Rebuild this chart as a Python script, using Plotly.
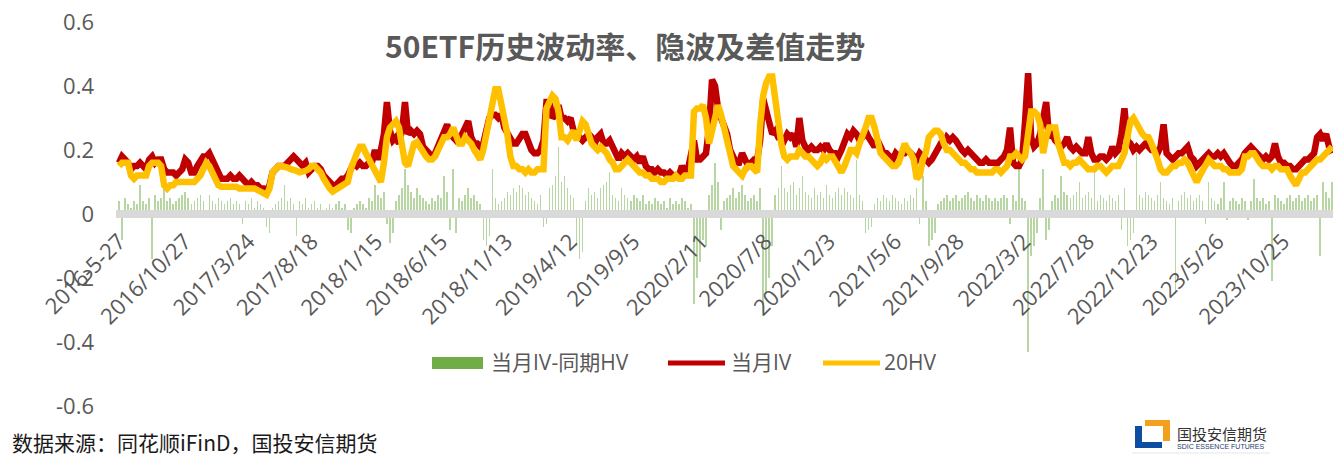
import pandas as pd
import plotly.graph_objects as go

# 当月IV（红线），周度读数
iv = [
    0.16, 0.18, 0.17, 0.16, 0.14, 0.15, 0.15, 0.16, 0.15, 0.14,
    0.17, 0.18, 0.16, 0.17, 0.17, 0.14, 0.13, 0.13, 0.13, 0.12,
    0.13, 0.14, 0.17, 0.16, 0.13, 0.13, 0.15, 0.17, 0.18, 0.18,
    0.19, 0.17, 0.15, 0.13, 0.11, 0.11, 0.11, 0.12, 0.11, 0.11,
    0.12, 0.11, 0.10, 0.09, 0.10, 0.09, 0.09, 0.08, 0.08, 0.07,
    0.09, 0.13, 0.14, 0.15, 0.15, 0.15, 0.16, 0.17, 0.18, 0.17,
    0.16, 0.15, 0.16, 0.13, 0.14, 0.15, 0.15, 0.14, 0.12, 0.11,
    0.10, 0.09, 0.09, 0.10, 0.11, 0.11, 0.12, 0.14, 0.16, 0.15,
    0.16, 0.15, 0.15, 0.16, 0.16, 0.20, 0.17, 0.20, 0.25, 0.35,
    0.26, 0.23, 0.24, 0.22, 0.26, 0.35, 0.25, 0.26, 0.25, 0.26,
    0.25, 0.21, 0.20, 0.19, 0.18, 0.19, 0.21, 0.24, 0.26, 0.28,
    0.25, 0.24, 0.23, 0.24, 0.25, 0.27, 0.29, 0.24, 0.22, 0.22,
    0.21, 0.22, 0.27, 0.30, 0.31, 0.31, 0.30, 0.31, 0.27, 0.25,
    0.23, 0.22, 0.22, 0.24, 0.25, 0.25, 0.22, 0.20, 0.19, 0.19,
    0.20, 0.23, 0.35, 0.35, 0.30, 0.31, 0.34, 0.30, 0.30, 0.29,
    0.30, 0.26, 0.25, 0.24, 0.23, 0.24, 0.25, 0.24, 0.22, 0.24,
    0.25, 0.22, 0.22, 0.23, 0.21, 0.18, 0.17, 0.19, 0.18, 0.19,
    0.18, 0.17, 0.18, 0.16, 0.18, 0.15, 0.14, 0.14, 0.13, 0.14,
    0.13, 0.13, 0.12, 0.13, 0.12, 0.12, 0.12, 0.15, 0.13, 0.14,
    0.20, 0.23, 0.17, 0.17, 0.18, 0.19, 0.27, 0.42, 0.40, 0.33,
    0.30, 0.28, 0.25, 0.20, 0.18, 0.16, 0.16, 0.19, 0.17, 0.15,
    0.16, 0.17, 0.17, 0.23, 0.36, 0.32, 0.27, 0.25, 0.26, 0.24,
    0.24, 0.23, 0.25, 0.24, 0.25, 0.21, 0.30, 0.23, 0.21, 0.20,
    0.21, 0.20, 0.20, 0.21, 0.20, 0.22, 0.20, 0.19, 0.19, 0.18,
    0.20, 0.22, 0.25, 0.24, 0.26, 0.25, 0.23, 0.24, 0.26, 0.24,
    0.22, 0.21, 0.23, 0.21, 0.19, 0.19, 0.18, 0.17, 0.19, 0.18,
    0.19, 0.19, 0.20, 0.19, 0.18, 0.17, 0.19, 0.18, 0.17, 0.16,
    0.17, 0.19, 0.21, 0.22, 0.22, 0.24, 0.23, 0.24, 0.23, 0.21,
    0.20, 0.19, 0.20, 0.19, 0.18, 0.17, 0.16, 0.16, 0.17, 0.16,
    0.16, 0.16, 0.16, 0.17, 0.18, 0.20, 0.27, 0.16, 0.15, 0.15,
    0.17, 0.29, 0.44, 0.24, 0.21, 0.22, 0.25, 0.30, 0.35, 0.24,
    0.25, 0.23, 0.22, 0.21, 0.22, 0.24, 0.21, 0.20, 0.21, 0.20,
    0.19, 0.19, 0.24, 0.19, 0.17, 0.17, 0.18, 0.18, 0.17, 0.18,
    0.21, 0.19, 0.20, 0.25, 0.33, 0.23, 0.22, 0.20, 0.21, 0.20,
    0.21, 0.22, 0.21, 0.20, 0.20, 0.19, 0.21, 0.28, 0.19, 0.18,
    0.17, 0.18, 0.19, 0.19, 0.20, 0.21, 0.18, 0.17, 0.15, 0.16,
    0.17, 0.18, 0.19, 0.18, 0.18, 0.19, 0.18, 0.19, 0.17, 0.16,
    0.15, 0.15, 0.16, 0.17, 0.19, 0.20, 0.21, 0.20, 0.19, 0.18,
    0.17, 0.18, 0.17, 0.18, 0.22, 0.18, 0.16, 0.16, 0.15, 0.15,
    0.14, 0.14, 0.15, 0.16, 0.17, 0.17, 0.18, 0.19, 0.24, 0.25,
    0.23, 0.25, 0.21, 0.19,
]

# 20HV（黄线）
hv20 = [
    0.15, 0.16, 0.16, 0.16, 0.12, 0.11, 0.12, 0.12, 0.12, 0.12,
    0.15, 0.16, 0.16, 0.16, 0.15, 0.09, 0.08, 0.09, 0.09, 0.10,
    0.10, 0.10, 0.10, 0.10, 0.10, 0.10, 0.11, 0.12, 0.14, 0.16,
    0.15, 0.13, 0.10, 0.09, 0.085, 0.085, 0.085, 0.09, 0.085, 0.085,
    0.08, 0.08, 0.085, 0.085, 0.08, 0.08, 0.075, 0.07, 0.06, 0.06,
    0.08, 0.13, 0.14, 0.15, 0.15, 0.15, 0.145, 0.14, 0.14, 0.135,
    0.13, 0.13, 0.135, 0.14, 0.15, 0.15, 0.14, 0.13, 0.11, 0.09,
    0.08, 0.07, 0.075, 0.08, 0.09, 0.09, 0.10, 0.14, 0.17, 0.19,
    0.21, 0.21, 0.19, 0.17, 0.16, 0.14, 0.12, 0.10, 0.16, 0.24,
    0.27, 0.28, 0.29, 0.27, 0.21, 0.16, 0.15, 0.18, 0.22, 0.225,
    0.21, 0.19, 0.18, 0.17, 0.17, 0.18, 0.20, 0.22, 0.24, 0.24,
    0.25, 0.27, 0.25, 0.22, 0.22, 0.24, 0.23, 0.22, 0.20, 0.18,
    0.17, 0.20, 0.25, 0.30, 0.35, 0.39, 0.39, 0.35, 0.31, 0.25,
    0.18, 0.15, 0.15, 0.14, 0.14, 0.13, 0.14, 0.13, 0.13, 0.14,
    0.14, 0.14, 0.33, 0.35, 0.37, 0.36, 0.32, 0.24, 0.24, 0.23,
    0.25, 0.26, 0.23, 0.27, 0.29, 0.28, 0.25, 0.22, 0.21, 0.20,
    0.21, 0.20, 0.19, 0.17, 0.16, 0.14, 0.14, 0.15, 0.16, 0.17,
    0.16, 0.15, 0.14, 0.13, 0.13, 0.12, 0.12, 0.11, 0.11, 0.11,
    0.10, 0.10, 0.11, 0.11, 0.11, 0.12, 0.11, 0.11, 0.12, 0.12,
    0.12, 0.32, 0.33, 0.33, 0.34, 0.30, 0.22, 0.26, 0.30, 0.34,
    0.31, 0.27, 0.24, 0.18, 0.15, 0.14, 0.13, 0.12, 0.14, 0.15,
    0.15, 0.14, 0.13, 0.28, 0.37, 0.41, 0.43, 0.43, 0.36, 0.28,
    0.22, 0.18, 0.17, 0.18, 0.18, 0.18, 0.20, 0.19, 0.18, 0.18,
    0.17, 0.16, 0.15, 0.16, 0.18, 0.17, 0.18, 0.18, 0.16, 0.14,
    0.13, 0.15, 0.18, 0.20, 0.20, 0.19, 0.22, 0.24, 0.27, 0.30,
    0.30, 0.27, 0.22, 0.19, 0.18, 0.17, 0.16, 0.15, 0.15, 0.16,
    0.19, 0.22, 0.20, 0.19, 0.17, 0.11, 0.12, 0.17, 0.19, 0.24,
    0.25, 0.26, 0.26, 0.25, 0.22, 0.20, 0.20, 0.19, 0.18, 0.17,
    0.16, 0.16, 0.15, 0.14, 0.14, 0.13, 0.13, 0.13, 0.13, 0.13,
    0.13, 0.14, 0.14, 0.13, 0.14, 0.15, 0.18, 0.18, 0.19, 0.18,
    0.17, 0.18, 0.25, 0.32, 0.32, 0.31, 0.28, 0.19, 0.24, 0.27,
    0.27, 0.27, 0.22, 0.18, 0.16, 0.16, 0.15, 0.16, 0.16, 0.17,
    0.16, 0.15, 0.14, 0.14, 0.14, 0.15, 0.15, 0.14, 0.13, 0.14,
    0.15, 0.15, 0.15, 0.17, 0.19, 0.24, 0.29, 0.30, 0.28, 0.26,
    0.25, 0.24, 0.24, 0.22, 0.20, 0.17, 0.14, 0.13, 0.13, 0.14,
    0.15, 0.15, 0.16, 0.16, 0.17, 0.16, 0.14, 0.12, 0.10, 0.12,
    0.14, 0.16, 0.17, 0.16, 0.15, 0.15, 0.15, 0.14, 0.14, 0.13,
    0.13, 0.13, 0.13, 0.14, 0.18, 0.18, 0.19, 0.19, 0.17, 0.16,
    0.15, 0.15, 0.15, 0.14, 0.15, 0.15, 0.14, 0.14, 0.14, 0.12,
    0.10, 0.09, 0.11, 0.13, 0.13, 0.14, 0.15, 0.16, 0.17, 0.17,
    0.18, 0.19, 0.20, 0.21,
]

# 当月IV-同期HV（绿色柱）
iv_hv_diff = [
    0.04, -0.08, 0.05, 0.03, 0.02, 0.04, 0.03, 0.09, 0.04, 0.03,
    0.05, -0.14, 0.06, 0.04, 0.05, 0.08, 0.04, 0.05, 0.03, 0.04,
    0.05, 0.06, 0.07, 0.05, 0.03, 0.04, 0.05, 0.06, 0.04, -0.01,
    0.06, 0.04, 0.03, 0.05, 0.04, 0.03, 0.04, 0.05, 0.03, 0.04,
    0.03, -0.03, 0.04, 0.03, 0.05, 0.02, 0.04, 0.03, 0.02, -0.04,
    -0.06, 0.02, 0.03, 0.04, 0.05, 0.09, 0.04, 0.05, 0.03, -0.07,
    0.04, 0.03, 0.05, 0.02, 0.03, 0.04, 0.02, 0.03, -0.01, 0.02,
    0.03, 0.02, 0.03, 0.04, 0.02, 0.03, -0.05, -0.06, 0.02, 0.03,
    0.04, 0.03, 0.02, 0.05, 0.04, 0.09, 0.06, 0.05, 0.07, -0.03,
    -0.09, -0.06, 0.04, 0.06, 0.08, 0.14, 0.09, 0.07, 0.05, 0.08,
    0.06, 0.05, 0.04, 0.03, 0.05, 0.04, 0.06, 0.05, 0.12, 0.07,
    -0.05, 0.14, -0.06, 0.05, 0.04, 0.06, 0.08, 0.05, 0.06, 0.04,
    0.03, -0.08, -0.10, -0.07, 0.14, 0.05, 0.03, 0.04, 0.05, 0.07,
    0.06, 0.08, 0.07, 0.09, 0.08, 0.06, 0.07, 0.05, 0.04, 0.03,
    0.06, -0.04, -0.03, 0.08, 0.09, 0.12, 0.21, 0.10, 0.12, 0.08,
    0.06, 0.05, -0.10, -0.14, -0.12, 0.04, 0.08, 0.06, 0.07, 0.05,
    0.08, 0.09, 0.10, 0.13, 0.06, 0.05, 0.04, 0.08, 0.06, 0.05,
    0.04, 0.06, 0.05, 0.04, 0.06, 0.03, 0.04, 0.03, 0.05, 0.04,
    0.03, 0.04, 0.02, 0.05, 0.03, 0.04, 0.03, 0.05, 0.04, 0.02,
    0.03, -0.28, -0.20, -0.15, -0.08, -0.10, 0.06, 0.09, 0.16, 0.10,
    -0.05, 0.04, 0.05, 0.06, 0.08, 0.05, 0.07, 0.09, 0.06, 0.04,
    0.05, 0.06, 0.04, 0.08, -0.32, -0.25, -0.20, -0.10, 0.06, 0.08,
    0.15, 0.08, 0.07, 0.09, 0.10, 0.06, 0.08, 0.12, 0.07, 0.06,
    0.05, 0.08, 0.06, 0.07, 0.05, 0.09, 0.06, 0.05, 0.07, 0.08,
    0.06, 0.08, 0.07, 0.06, 0.05, 0.17, 0.06, 0.04, -0.06, -0.05,
    -0.04, 0.03, 0.05, 0.04, 0.06, 0.05, 0.04, 0.06, 0.05, 0.04,
    0.03, 0.05, 0.04, 0.06, 0.05, 0.08, -0.03, 0.12, 0.04, -0.10,
    -0.08, -0.06, 0.03, 0.04, 0.05, 0.06, 0.04, 0.05, 0.06, 0.04,
    0.05, 0.06, 0.07, 0.05, 0.04, 0.06, 0.05, 0.04, 0.06, 0.05,
    0.04, 0.05, 0.04, 0.05, 0.06, 0.05, -0.03, 0.06, 0.04, 0.14,
    0.05, 0.04, -0.43, -0.13, -0.10, -0.06, 0.05, 0.14, -0.08, -0.05,
    0.04, 0.06, 0.05, 0.12, 0.07, 0.06, 0.05, 0.06, 0.07, 0.10,
    0.05, 0.06, 0.07, 0.05, 0.13, 0.04, 0.06, 0.05, 0.04, 0.06,
    0.05, 0.04, 0.06, -0.05, 0.08, -0.10, -0.08, -0.06, 0.19, 0.06,
    0.05, 0.07, 0.06, 0.05, 0.04, 0.06, 0.10, 0.05, 0.04, 0.03,
    0.05, -0.25, 0.04, 0.06, 0.07, 0.05, 0.06, 0.04, 0.05, 0.06,
    0.04, -0.03, 0.10, 0.05, 0.04, 0.03, 0.05, 0.10, -0.02, 0.04,
    0.05, 0.04, 0.03, 0.05, 0.04, -0.02, 0.04, 0.11, 0.05, 0.04,
    0.05, 0.03, 0.04, -0.21, 0.06, 0.05, 0.04, 0.03, 0.05, 0.06,
    0.04, 0.05, 0.06, 0.04, 0.05, 0.06, 0.04, 0.05, 0.06, -0.13,
    0.10, 0.07, 0.05, 0.10,
]

dates = pd.date_range("2016-05-27", periods=len(iv), freq="7D")

tick_dates = ["2016-05-27", "2016-10-27", "2017-03-24", "2017-08-18", "2018-01-15",
              "2018-06-15", "2018-11-13", "2019-04-12", "2019-09-05", "2020-02-11",
              "2020-07-08", "2020-12-03", "2021-05-06", "2021-09-28", "2022-03-02",
              "2022-07-28", "2022-12-23", "2023-05-26", "2023-10-25"]
tick_text = ["2016-5-27", "2016/10/27", "2017/3/24", "2017/8/18", "2018/1/15",
             "2018/6/15", "2018/11/13", "2019/4/12", "2019/9/5", "2020/2/11",
             "2020/7/8", "2020/12/3", "2021/5/6", "2021/9/28", "2022/3/2",
             "2022/7/28", "2022/12/23", "2023/5/26", "2023/10/25"]
y_ticks = [0.6, 0.4, 0.2, 0, -0.2, -0.4, -0.6]
y_text = ["0.6", "0.4", "0.2", "0", "-0.2", "-0.4", "-0.6"]

W, H = 1333, 457
ML, MR, MT, MB = 116, 0, 22, 51
PW, PH = W - ML - MR, H - MT - MB


def px(x):  # 像素 -> paper 坐标
    return (x - ML) / PW


def py(y):
    return (H - MB - y) / PH


FONT = "Open Sans, Noto Sans CJK SC, sans-serif"
CJK = "Noto Sans CJK SC"
GRAY = "#595959"
GREEN, RED, GOLD = "#70ad47", "#c00000", "#ffc000"

fig = go.Figure()
fig.add_trace(go.Bar(x=dates, y=iv_hv_diff, name="当月IV-同期HV",
                     marker=dict(color="rgba(112,173,71,0.5)", line_width=0),
                     width=3.5 * 86400000))
fig.add_trace(go.Scatter(x=dates, y=iv, name="当月IV", mode="lines",
                         line=dict(color=RED, width=6.5)))
fig.add_trace(go.Scatter(x=dates, y=hv20, name="20HV", mode="lines",
                         line=dict(color=GOLD, width=6.5)))

fig.update_layout(
    width=W, height=H,
    margin=dict(l=ML, r=MR, t=MT, b=MB),
    paper_bgcolor="white", plot_bgcolor="white",
    font=dict(family=FONT, size=22, color=GRAY),
    showlegend=False,
    bargap=0,
    xaxis=dict(type="date", range=["2016-05-20", "2024-02-18"],
               anchor="free", position=0.5,
               showline=True, linecolor="#d9d9d9", linewidth=8,
               showgrid=False, zeroline=False, ticks="",
               tickvals=tick_dates, ticktext=tick_text, tickangle=-45,
               ticklabelstandoff=2, tickfont=dict(size=22, color=GRAY)),
    yaxis=dict(range=[-0.6, 0.6], tickvals=y_ticks, ticktext=y_text,
               showgrid=False, zeroline=False, showline=False,
               ticklabelstandoff=21, tickfont=dict(size=22, color=GRAY)),
)

fig.add_annotation(text="<b>50ETF历史波动率、隐波及差值走势</b>", xref="paper", yref="paper",
                   x=px(625), y=py(45), xanchor="center", yanchor="middle", showarrow=False,
                   font=dict(size=30, color=GRAY, family=CJK))
fig.add_annotation(text="数据来源：同花顺iFinD，国投安信期货", xref="paper", yref="paper",
                   x=px(10), y=py(442), xanchor="left", yanchor="middle", showarrow=False,
                   font=dict(size=21, color="#1a1a1a", family=CJK))

# 图例（按原图位置手动绘制）
fig.add_shape(type="rect", xref="paper", yref="paper", x0=px(432), x1=px(483),
              y0=py(357), y1=py(369), fillcolor=GREEN, line_width=0)
for x0, x1, c in [(668, 725, RED), (823, 880, GOLD)]:
    fig.add_shape(type="line", xref="paper", yref="paper", x0=px(x0), x1=px(x1),
                  y0=py(363), y1=py(363), line=dict(color=c, width=5))
for x0, label in [(489, "当月IV-同期HV"), (729, "当月IV"), (882, "20HV")]:
    fig.add_annotation(text=label, xref="paper", yref="paper", x=px(x0), y=py(362),
                       xanchor="left", yanchor="middle", showarrow=False,
                       font=dict(size=21, color=GRAY, family=FONT))

# 公司标识
blue, orange = "#0d4ea0", "#f3a01c"
for x0, y0, x1, y1, c in [(1135, 426, 1142, 448, blue), (1135, 442, 1162, 448, blue),
                          (1145, 420, 1170, 426, orange), (1163, 420, 1170, 441, orange)]:
    fig.add_shape(type="rect", xref="paper", yref="paper", x0=px(x0), y0=py(y0),
                  x1=px(x1), y1=py(y1), fillcolor=c, line_width=0)
fig.add_shape(type="line", xref="paper", yref="paper", x0=px(1132), x1=px(1270),
              y0=py(453), y1=py(453), line=dict(color="#e6e6e6", width=1))
fig.add_annotation(text="国投安信期货", xref="paper", yref="paper", x=px(1175), y=py(433),
                   xanchor="left", yanchor="middle", showarrow=False,
                   font=dict(size=15, color="#333333", family=CJK))
fig.add_annotation(text="SDIC ESSENCE FUTURES", xref="paper", yref="paper", x=px(1175), y=py(446),
                   xanchor="left", yanchor="middle", showarrow=False,
                   font=dict(size=7, color="#1f3b6f", family="Liberation Sans"))

fig.write_html("out.html", config={"displayModeBar": False},
               post_script="document.body.style.margin='0';")
